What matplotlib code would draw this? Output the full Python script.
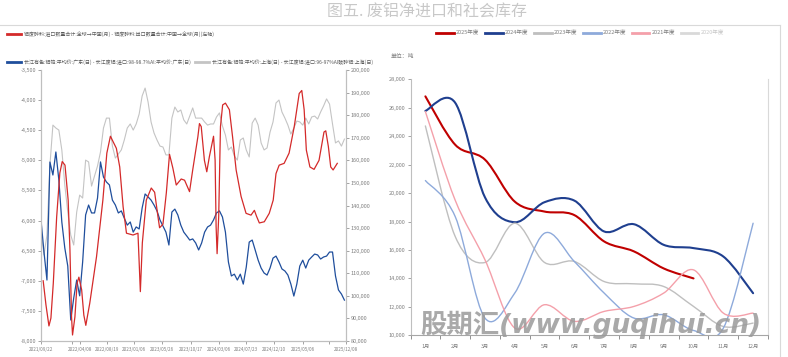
import numpy as np
import pandas as pd
import matplotlib
matplotlib.use("Agg")
import matplotlib.pyplot as plt
from matplotlib.path import Path
from matplotlib.patches import PathPatch
from matplotlib.lines import Line2D
from matplotlib.ticker import FuncFormatter, FixedLocator

plt.rcParams['font.family'] = ['Liberation Sans Narrow', 'Noto Sans CJK SC', 'DejaVu Sans']

# ---- left panel data ----
red_label = "铝废碎料:进口数量合计:全球→中国(月) - 铝废碎料:出口数量合计:中国→全球(月)(左轴)"
blue_label = "长江有色:铝锭:平均价:广东(日) - 长江废铝:进口:98-98.7%Al:平均价:广东(日)"
gray_label = "长江有色:铝锭:平均价:上海(日) - 长江废铝:进口:96-97%Al破碎铝:上海(日)"

red_dates = ['2021-10-03', '2021-10-17', '2021-11-01', '2021-11-11', '2021-11-23', '2021-12-10',
             '2021-12-26', '2022-01-07', '2022-01-21', '2022-02-06', '2022-02-15', '2022-02-23',
             '2022-02-28', '2022-03-12', '2022-03-23', '2022-04-01', '2022-04-15', '2022-04-26',
             '2022-05-06', '2022-05-26', '2022-06-29', '2022-07-31', '2022-08-20', '2022-09-07',
             '2022-10-07', '2022-10-24', '2022-11-10', '2022-11-27', '2022-12-30', '2023-01-24',
             '2023-02-05', '2023-02-15', '2023-03-07', '2023-04-01', '2023-04-18', '2023-05-05',
             '2023-05-13', '2023-05-30', '2023-06-16', '2023-07-02', '2023-07-19', '2023-08-05',
             '2023-08-30', '2023-09-16', '2023-10-11', '2023-10-27', '2023-11-22', '2023-11-30',
             '2023-12-09', '2023-12-25', '2024-01-06', '2024-01-19', '2024-02-09', '2024-02-17',
             '2024-02-22', '2024-02-27', '2024-03-06', '2024-03-15', '2024-03-26', '2024-04-09',
             '2024-04-29', '2024-05-15', '2024-06-02', '2024-06-27', '2024-07-22', '2024-08-16',
             '2024-09-02', '2024-09-13', '2024-09-27', '2024-10-22', '2024-11-16', '2024-12-06',
             '2024-12-20', '2025-01-05', '2025-01-30', '2025-02-24', '2025-03-22', '2025-04-16',
             '2025-04-29', '2025-05-11', '2025-05-22', '2025-06-09', '2025-06-30', '2025-07-25',
             '2025-08-19', '2025-08-28', '2025-09-10', '2025-09-22', '2025-10-04', '2025-10-25']
red_vals = [-7000, -7400, -7750, -7620, -7040, -5940, -5210, -5020, -5080, -5660, -6490, -7600,
            -7900, -7600, -7040, -6940, -7150, -7570, -7740, -7370, -6600, -5660, -4880, -4600,
            -4800, -5110, -5770, -6210, -6240, -6210, -7180, -6370, -5660, -5460, -5530, -5940,
            -6120, -6060, -5540, -4900, -5130, -5410, -5310, -5330, -5520, -5160, -4610, -4390,
            -4440, -5000, -5190, -4940, -4600, -5000, -6100, -6550, -5940, -4440, -4080, -4050,
            -4160, -4610, -5160, -5600, -5880, -5910, -5830, -5930, -6040, -6020, -5880, -5660,
            -5220, -5080, -5050, -4880, -4440, -3890, -3840, -4160, -4830, -5110, -5150, -5000,
            -4530, -4510, -4770, -5110, -5160, -5050]

# daily spreads, read every 15 days
spread_dates = pd.date_range('2021-09-22', periods=103, freq='15D')
blue_vals = [133600, 119400, 107000, 159250, 153500, 163700, 151300, 132700, 121200, 113200,
             89300, 99000, 107000, 100000, 115000, 135800, 140200, 136700, 136700, 143300,
             159300, 152600, 150400, 149100, 142400, 140200, 136700, 137600, 134400, 131300,
             132700, 128200, 130500, 129600, 138900, 145100, 143800, 142400, 140200, 137600,
             133600, 130900, 128200, 122500, 137100, 138400, 135800, 131300, 128200, 126500,
             124700, 125200, 123400, 120300, 123400, 128200, 130500, 131300, 133600, 136700,
             137600, 134900, 128200, 115000, 108800, 109600, 107000, 109600, 105200, 112700,
             123800, 124700, 120300, 115800, 112300, 110100, 109200, 112300, 116700, 117600,
             115000, 111900, 111000, 109200, 105200, 99900, 105200, 113200, 115800, 112300,
             115800, 117200, 118500, 118100, 116300, 117200, 117600, 119400, 119400, 108800,
             102600, 100800, 98100]
gray_vals = [129100, 118100, 126900, 157900, 175600, 174300, 173400, 164600, 149100, 137100,
             126900, 122500, 137100, 144600, 143300, 160100, 159300, 148600, 153100, 157500,
             163700, 174300, 178700, 178700, 166300, 161000, 162800, 164600, 169000, 174300,
             176100, 173400, 176100, 180500, 188500, 192000, 185800, 177000, 172100, 169000,
             166300, 165900, 162400, 162400, 178700, 183600, 181400, 182300, 177900, 176100,
             179600, 183200, 178700, 178700, 178700, 177000, 175600, 176100, 176100, 179200,
             181000, 175200, 171200, 164600, 165900, 161900, 160100, 169000, 169900, 164600,
             161500, 176500, 178700, 175600, 167700, 164600, 165500, 172500, 177000, 185400,
             186700, 181400, 178700, 175600, 171600, 174300, 177400, 177000, 175600, 178700,
             176100, 179200, 179600, 178300, 181400, 184100, 187200, 184900, 176100, 167700,
             168600, 166300, 169400]

date_ticks = ['2021-09-22', '2022-04-08', '2022-08-19', '2023-01-06', '2023-05-26', '2023-10-17',
              '2024-03-06', '2024-07-23', '2024-12-10', '2025-05-06', '2025-12-08']

# ---- right panel data ----
months = list(range(1, 13))
month_labels = [f"{m}月" for m in months]
years = ['2025年度', '2024年度', '2023年度', '2022年度', '2021年度', '2020年度']
stock = {
    '2025年度': [26800, 23400, 22350, 19400, 18700, 18450, 16600, 15900, 14700, 14000],
    '2024年度': [25780, 26350, 19700, 17950, 19360, 19470, 17300, 17810, 16360, 16130, 15540, 12960],
    '2023年度': [24720, 16950, 15120, 17880, 15120, 15190, 13780, 13620, 13430, 12030, 10620, 10860],
    '2022年度': [20880, 18350, 11210, 12970, 17180, 15190, 12970, 11210, 11440, 10340, 10500, 17880],
    '2021年度': [25730, 19500, 15310, 10510, 12150, 10980, 11680, 12030, 12970, 14600, 11560, 11560],
    '2020年度': [],
}
year_colors = ['#c00000', '#1f3f8f', '#bfbfbf', '#8eaadb', '#f4a0aa', '#d9d9d9']
year_lw = [1.5, 1.5, 1.0, 1.0, 1.0, 1.0]

tick_color = '#7f7f7f'
spine_color = '#bfbfbf'


def smooth_path(xs, ys):
    # Catmull-Rom style bezier through the points (like a smoothed line)
    pts = np.column_stack([xs, ys]).astype(float)
    n = len(pts)
    verts = [pts[0]]
    codes = [Path.MOVETO]
    for i in range(n - 1):
        p0 = pts[max(i - 1, 0)]
        p1 = pts[i]
        p2 = pts[i + 1]
        p3 = pts[min(i + 2, n - 1)]
        verts += [p1 + (p2 - p0) / 6, p2 - (p3 - p1) / 6, p2]
        codes += [Path.CURVE4] * 3
    return Path(verts, codes)


def style_ax(a):
    a.tick_params(colors=tick_color, labelsize=4, length=2, width=0.5, pad=1.5)
    for s in a.spines.values():
        s.set_color(spine_color)
        s.set_linewidth(0.8)


fmt = FuncFormatter(lambda v, p: "{:,.0f}".format(v))

fig = plt.figure(figsize=(7.88, 3.57), dpi=100)

# ---- left panel ----
ax = fig.add_axes([41 / 788, 1 - 341 / 357, 305 / 788, 271 / 357])
ax2 = ax.twinx()
ax.set_zorder(2)
ax.patch.set_visible(False)

g_line, = ax2.plot(spread_dates, gray_vals, color='#c4c4c4', lw=0.8)
b_line, = ax2.plot(spread_dates, blue_vals, color='#1f4e9c', lw=0.9)
r_line, = ax.plot(pd.to_datetime(red_dates), red_vals, color='#d42a2a', lw=0.9)

ax.set_ylim(-8000, -3500)
ax2.set_ylim(80000, 200000)
ax.set_xlim(pd.Timestamp('2021-09-22'), pd.Timestamp('2025-12-08'))
ax.set_yticks(np.arange(-8000, -3499, 500))
ax2.set_yticks(np.arange(80000, 200001, 10000))
ax.yaxis.set_major_formatter(fmt)
ax2.yaxis.set_major_formatter(fmt)
ax.set_xticks(pd.to_datetime(date_ticks))
ax.set_xticklabels([d.replace('-', '/') for d in date_ticks])
ax.xaxis.set_minor_locator(FixedLocator(matplotlib.dates.date2num(pd.to_datetime(['2022-02-25', '2025-09-13']))))
for a in (ax, ax2):
    style_ax(a)
    a.spines['top'].set_visible(False)
ax.tick_params(axis='x', which='major', labelsize=3.3, pad=2)
ax.tick_params(axis='x', which='minor', length=2, width=0.5, colors=tick_color)

leg_kw = dict(frameon=False, fontsize=3.6, handlelength=2.8, handletextpad=0.5,
              borderaxespad=0, borderpad=0, labelcolor='#595959')
h_r = Line2D([], [], color='#d42a2a', lw=2)
h_b = Line2D([], [], color='#1f4e9c', lw=2)
h_g = Line2D([], [], color='#c4c4c4', lw=2)
fig.legend([h_r], [red_label], loc='center left', bbox_to_anchor=(7 / 788, 1 - 34 / 357), **leg_kw)
fig.legend([h_b, h_g], [blue_label, gray_label], loc='center left', ncol=2, columnspacing=1.0,
           bbox_to_anchor=(7 / 788, 1 - 62 / 357), **leg_kw)

# ---- right panel ----
ax3 = fig.add_axes([410.5 / 788, 1 - 335.3 / 357, 357.5 / 788, 256 / 357])
handles = []
for name, c, lw in zip(years, year_colors, year_lw):
    vals = stock[name]
    if len(vals) > 1:
        ax3.add_patch(PathPatch(smooth_path(months[:len(vals)], vals), fill=False,
                                edgecolor=c, lw=lw, capstyle='round'))
    handles.append(Line2D([], [], color=c, lw=2))
ax3.set_xlim(0.5, 12.5)
ax3.set_ylim(10000, 28000)
ax3.set_yticks(np.arange(10000, 28001, 2000))
ax3.yaxis.set_major_formatter(fmt)
ax3.set_xticks(months)
ax3.set_xticklabels(month_labels)
ax3.xaxis.set_minor_locator(FixedLocator(np.arange(0.5, 12.6, 1)))
style_ax(ax3)
ax3.tick_params(axis='x', which='major', length=0, pad=6, labelsize=3.8)
ax3.tick_params(axis='x', which='minor', length=3, width=0.6, colors='#808080')
ax3.spines['top'].set_visible(False)
ax3.spines['right'].set_color('#d9d9d9')
ax3.spines['bottom'].set_color('#a6a6a6')

leg = fig.legend(handles, years, loc='center', ncol=6, bbox_to_anchor=(580 / 788, 1 - 33 / 357),
                 frameon=False, fontsize=4, handlelength=3.2, handletextpad=0.4, columnspacing=1.0,
                 borderaxespad=0, borderpad=0, labelcolor='#7f7f7f')
leg.get_texts()[-1].set_color('#c8c8c8')

fig.text(391 / 788, 1 - 56 / 357, "单位：吨", fontsize=4.2, color='#7f7f7f', va='center')

# title and frame
fig.text(427 / 788, 1 - 12 / 357, "图五. 废铝净进口和社会库存", fontsize=11.5, color='#c8c8c8',
         ha='center', va='center', family=['Noto Sans CJK SC', 'DejaVu Sans'])
fig.add_artist(Line2D([0, 780 / 788], [1 - 25 / 357] * 2, transform=fig.transFigure,
                      color='#d9d9d9', lw=0.8))
fig.add_artist(Line2D([780 / 788] * 2, [0, 1 - 25 / 357], transform=fig.transFigure,
                      color='#d9d9d9', lw=0.8))

# watermark
fig.text(591 / 788, 1 - 325 / 357, "股期汇(www.guqihui.cn)", fontsize=19, color='#9a9a9a', alpha=0.85,
         ha='center', va='center', fontweight='bold', style='italic',
         family=['DejaVu Sans', 'Noto Sans CJK SC'])

fig.savefig("out.png", dpi=100)
